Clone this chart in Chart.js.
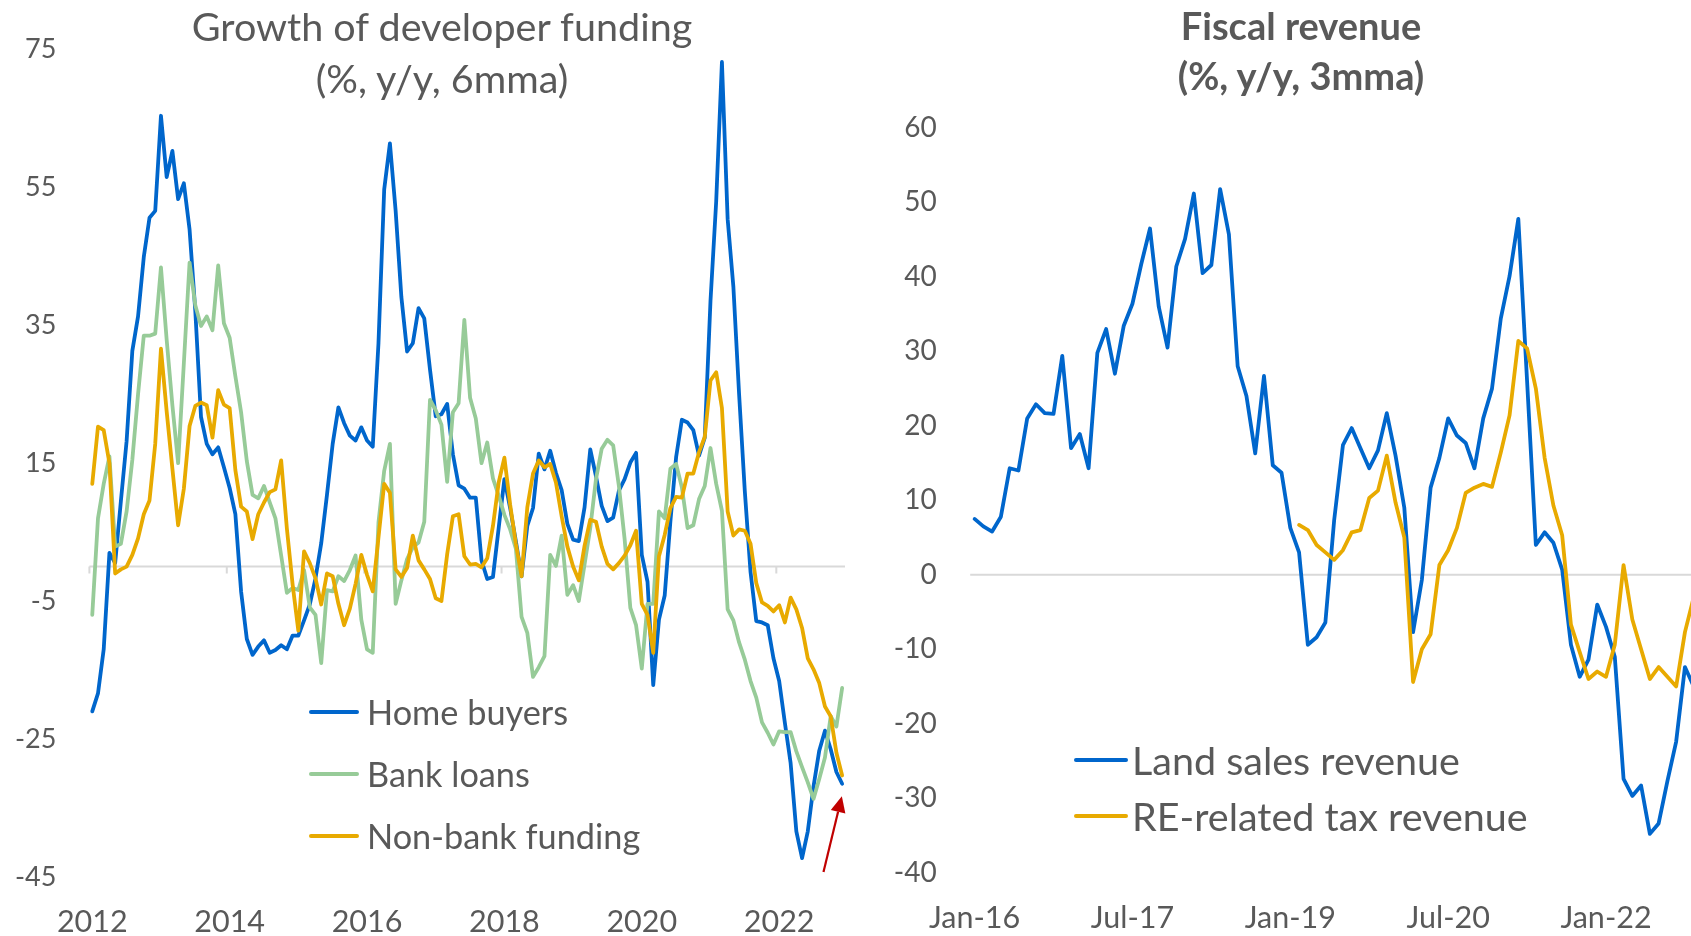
<!DOCTYPE html>
<html><head><meta charset="utf-8">
<script src="https://cdn.jsdelivr.net/npm/chart.js@4.4.1/dist/chart.umd.min.js"></script>
<style>
html,body{margin:0;padding:0;background:#fff;overflow:hidden;width:1691px;height:936px;}
#wrap{position:relative;width:1691px;height:936px;overflow:hidden;background:#fff;}
canvas{position:absolute;top:0;}
.txt{position:absolute;color:#595959;font-family:Lato,'Open Sans',sans-serif;white-space:nowrap;}
.sw{position:absolute;height:4px;border-radius:2px;}
</style></head><body>
<div id="wrap">
<canvas id="left" width="860" height="936" style="left:0"></canvas>
<canvas id="right" width="850" height="936" style="left:860px"></canvas>

<div class="txt" style="left:142px;width:600px;top:0px;font-size:39.5px;line-height:52px;text-align:center;">Growth of developer funding<br>(%, y/y, 6mma)</div>
<div class="txt" style="left:1001px;width:600px;top:0px;font-size:38px;line-height:50px;text-align:center;font-weight:bold;">Fiscal revenue<br>(%, y/y, 3mma)</div>

<div class="sw" style="left:309px;top:710px;width:50px;background:#0066CC"></div>
<div class="txt" style="left:367px;top:692px;font-size:34.3px;line-height:40px;">Home buyers</div>
<div class="sw" style="left:309px;top:772px;width:50px;background:#97CB98"></div>
<div class="txt" style="left:367px;top:754px;font-size:34.3px;line-height:40px;">Bank loans</div>
<div class="sw" style="left:309px;top:834px;width:50px;background:#E8AA00"></div>
<div class="txt" style="left:367px;top:816px;font-size:34.3px;line-height:40px;">Non-bank funding</div>

<div class="sw" style="left:1074px;top:758px;width:54px;background:#0066CC"></div>
<div class="txt" style="left:1132px;top:740px;font-size:39.5px;line-height:40px;">Land sales revenue</div>
<div class="sw" style="left:1074px;top:814px;width:54px;background:#E8AA00"></div>
<div class="txt" style="left:1132px;top:796px;font-size:39.5px;line-height:40px;">RE-related tax revenue</div>
</div>
<script>
// ---------- Left panel data (monthly, Jan-2012 .. Dec-2022) ----------
const homeBuyers = [
-21,-18.4,-12,2,0.5,9.5,18.2,31.3,36.3,44.9,50.6,51.6,
65.4,56.5,60.3,53.3,55.6,48.9,37.1,21.7,17.8,16.3,17.3,14.4,
11.4,7.6,-3.6,-10.5,-12.8,-11.6,-10.7,-12.5,-12.1,-11.4,-12,-10,
-10,-7.8,-5.5,-1.7,3.4,10.4,17.8,23.1,20.8,19,18.3,20.2,
18.3,17.4,32.4,54.7,61.4,51.6,39.1,31.2,32.4,37.5,36,28.6,
21.8,22.1,23.6,16.3,11.8,11.3,10,10,0.9,-1.8,-1.5,5.6,
12.7,8.5,3.7,-1.4,5.9,8.5,16.4,14.1,16.8,13.6,11.1,6.2,
3.9,3.7,8.6,17,13.1,8.8,6.6,7.1,11,12.7,15.1,16.5,
1.7,-2.2,-17.2,-7.7,-4.2,6.6,15.9,21.3,20.9,19.8,16.1,18.7,
38.5,53,73.2,50.4,40.6,25,10.9,-0.8,-7.9,-8.1,-8.5,-13.3,
-16.6,-22.7,-28.5,-38.4,-42.3,-38.4,-31.9,-26.7,-23.8,-26.5,-29.8,-31.5];
const bankLoans = [
-7,7,12,16,2.9,3.3,8,15.5,25,33.5,33.5,33.8,
43.4,32.9,23.4,15,29.5,44.1,37.9,34.9,36.3,34.3,43.7,35.3,
33.2,27.6,22.4,15.3,10.4,9.9,11.7,9.3,7,1.6,-3.8,-3.1,
-3.4,-0.5,-5.9,-7,-14,-3.4,-3.6,-1.4,-2.1,-0.5,1.6,-7.7,
-12,-12.5,6.4,13.9,17.8,-5.4,-2,1.1,2.8,3.5,6.5,24.2,
22.7,20.6,12.3,22.4,23.7,35.8,24.5,21.5,15,18,12.8,10.3,
7.5,5.4,2.6,-7.3,-9.6,-16,-14.6,-13,1.7,0.1,4.5,-4.1,
-2.7,-5,0.3,5.6,12.7,17.1,18.4,17.6,11.7,4,-6,-8.5,
-14.8,-5.4,-5.4,8,7,14.2,14.9,11.5,5.6,6,9.8,11.7,
17.2,12,8.1,-6.2,-7.8,-11,-13.5,-16.6,-19,-22.6,-24.1,-25.8,
-23.9,-24,-24,-26.8,-29.1,-31.3,-33.7,-30.8,-27.7,-21.7,-23.2,-17.6];
const nonBank = [
12,20.3,19.8,15,-1,-0.4,0,1.7,4.1,7.6,9.6,17.8,
31.6,22.5,14.2,6,11.3,20.4,23.3,23.8,23.4,18.7,25.6,23.5,
23,14,8.7,8,4,7.6,9.3,10.8,11.2,15.4,5.5,-2.6,
-9.3,2.2,0.5,-1.7,-5.5,-1,-1.4,-5.4,-8.5,-6.1,-2.5,1.7,
-1.2,-3.6,4.2,12,10.7,-0.4,-1.5,-0.2,4.5,0.9,-0.4,-1.8,
-4.6,-5,1.8,7.3,7.6,1.5,0.3,0.4,-0.1,1.2,5.9,12.2,
15.8,9,3.3,-1.4,8.6,13.5,15.4,14.4,14.9,12.2,7.3,2.9,
0,-2,3,6.8,6.5,2.9,0.4,-0.4,0.5,1.6,3.1,5.2,
-5.4,-7,-12.5,1.5,4.6,8.5,10.1,10,13.5,13.5,16.6,18.8,
27,28.2,23,8,4.5,5.4,5.2,3.3,-2.4,-5.2,-5.7,-6.5,
-5.6,-8.1,-4.5,-6.2,-8.9,-13.3,-14.9,-16.9,-20.3,-21.7,-27,-30.3];
const leftStartYear = 2012;
const leftTickLabels = ['2012','2014','2016','2018','2020','2022'];
const leftYTicks = [75,55,35,15,-5,-25,-45];
const arrowFrom = [127.74, -44.3];   // [month index, value]
const arrowTo   = [130.95, -33.3];

// ---------- Right panel data (monthly, Jan-16 .. Nov-22) ----------
const landSales = [
7.5,6.5,5.8,7.8,14.3,14,21,22.9,21.7,21.6,29.4,17,
18.9,14.3,29.8,33,27,33.4,36.4,41.7,46.5,36,30.5,41.4,
45.1,51.2,40.5,41.6,51.8,45.7,28,24,16.3,26.7,14.7,13.7,
6.3,3,-9.4,-8.4,-6.4,7.3,17.4,19.7,17,14.3,16.7,21.7,
16,9,-7.7,-0.7,11.7,15.7,21,18.7,17.7,14.3,21,25,
34.4,40.1,47.8,26,4,5.7,4.3,0.7,-9.4,-13.7,-11.4,-4,
-7,-11,-27.4,-29.7,-28.3,-34.8,-33.4,-27.7,-22.4,-12.4,-15];
const reTax = [
null,null,null,null,null,null,null,null,null,null,null,null,
null,null,null,null,null,null,null,null,null,null,null,null,
null,null,null,null,null,null,null,null,null,null,null,null,
null,6.7,6,4,3,2,3.3,5.7,6,10.3,11.3,16,
9.7,5,-14.4,-10,-8,1.3,3.3,6.3,11,11.7,12.2,11.8,
16.4,21.4,31.4,30.4,25,15.7,9.3,5.3,-6.7,-10.4,-14,-13,
-13.7,-9.4,1.3,-6,-10,-14,-12.4,-13.7,-15,-7.7,-3];
const rightStartYear = 2016;
const monthNames = ['Jan','Feb','Mar','Apr','May','Jun','Jul','Aug','Sep','Oct','Nov','Dec'];
const rightTickLabels = ['Jan-16','Jul-17','Jan-19','Jul-20','Jan-22'];

// ---------- categories ----------
const leftMonths = homeBuyers.map((_, k) => (leftStartYear + Math.floor(k/12)) + '-' + monthNames[k%12]);
const rightMonths = landSales.map((_, k) => monthNames[k%12] + '-' + String((rightStartYear + Math.floor(k/12)) % 100).padStart(2,'0'));

const BLUE = '#0066CC', GREEN = '#97CB98', GOLD = '#E8AA00', TEXT = '#595959';
Chart.defaults.font.family = 'Lato, "Open Sans", sans-serif';
Chart.defaults.color = TEXT;

const zeroLine = {
  id: 'zeroLine',
  beforeDatasetsDraw(c, args, opts) {
    const {ctx, chartArea: a, scales: {x, y}} = c;
    const py = y.getPixelForValue(0);
    ctx.save();
    ctx.strokeStyle = '#D9D9D9';
    ctx.lineWidth = 2;
    ctx.beginPath();
    ctx.moveTo(a.left, py); ctx.lineTo(a.right, py);
    if (opts.every) {
      const slot = (a.right - a.left) / x.ticks.length;
      for (let k = 0; k < x.ticks.length; k += opts.every) {
        const px = a.left + k * slot;
        ctx.moveTo(px, py); ctx.lineTo(px, py + 7);
      }
    }
    ctx.stroke();
    ctx.restore();
  }
};

const arrow = {
  id: 'arrow',
  afterDatasetsDraw(c) {
    const {ctx, scales: {x, y}} = c;
    const x0 = x.getPixelForValue(arrowFrom[0]), y0 = y.getPixelForValue(arrowFrom[1]);
    const x1 = x.getPixelForValue(arrowTo[0]), y1 = y.getPixelForValue(arrowTo[1]);
    const ang = Math.atan2(y1 - y0, x1 - x0);
    const hl = 16, hw = 7.5;
    const bx = x1 - hl * Math.cos(ang), by = y1 - hl * Math.sin(ang);
    ctx.save();
    ctx.strokeStyle = '#C00000'; ctx.fillStyle = '#C00000'; ctx.lineWidth = 2.2;
    ctx.beginPath(); ctx.moveTo(x0, y0); ctx.lineTo(bx, by); ctx.stroke();
    ctx.beginPath();
    ctx.moveTo(x1, y1);
    ctx.lineTo(bx + hw * Math.sin(ang), by - hw * Math.cos(ang));
    ctx.lineTo(bx - hw * Math.sin(ang), by + hw * Math.cos(ang));
    ctx.closePath(); ctx.fill();
    ctx.restore();
  }
};

const lineStyle = {borderWidth: 3.8, tension: 0, borderJoinStyle: 'round', borderCapStyle: 'round', pointRadius: 0, fill: false};

new Chart(document.getElementById('left'), {
  type: 'line',
  data: {
    labels: leftMonths,
    datasets: [
      Object.assign({label: 'Home buyers', data: homeBuyers, borderColor: BLUE, order: 3}, lineStyle),
      Object.assign({label: 'Bank loans', data: bankLoans, borderColor: GREEN, order: 2}, lineStyle),
      Object.assign({label: 'Non-bank funding', data: nonBank, borderColor: GOLD, order: 1}, lineStyle)
    ]
  },
  options: {
    responsive: false, animation: false, devicePixelRatio: 1,
    layout: {padding: {left: 0, right: 15, top: 49.6, bottom: 0}},
    plugins: {legend: {display: false}, title: {display: false}, tooltip: {enabled: false}, zeroLine: {every: 24}},
    scales: {
      x: {
        type: 'category', offset: true,
        grid: {display: false}, border: {display: false},
        ticks: {
          autoSkip: false, maxRotation: 0, minRotation: 0, padding: 19, color: TEXT, font: {size: 30.5},
          callback: (v, i) => (i % 24 === 0 ? leftTickLabels[i / 24] : '')
        },
        afterFit: s => { s.height = 59.2; s.paddingLeft = 0; s.paddingRight = 0; }
      },
      y: {
        min: -45, max: 75,
        afterBuildTicks: s => { s.ticks = leftYTicks.map(v => ({value: v})); },
        ticks: {padding: 25, color: TEXT, font: {size: 27}},
        grid: {display: false}, border: {display: false},
        afterFit: s => { s.width = 89.4; }
      }
    }
  },
  plugins: [zeroLine, arrow]
});

new Chart(document.getElementById('right'), {
  type: 'line',
  data: {
    labels: rightMonths,
    datasets: [
      Object.assign({label: 'Land sales revenue', data: landSales, borderColor: BLUE, order: 2}, lineStyle),
      Object.assign({label: 'RE-related tax revenue', data: reTax, borderColor: GOLD, order: 1}, lineStyle)
    ]
  },
  options: {
    responsive: false, animation: false, devicePixelRatio: 1,
    layout: {padding: {left: 0, right: 11.9, top: 128, bottom: 0}},
    plugins: {legend: {display: false}, title: {display: false}, tooltip: {enabled: false}, zeroLine: {every: 0}},
    scales: {
      x: {
        type: 'category', offset: true,
        grid: {display: false}, border: {display: false},
        ticks: {
          autoSkip: false, maxRotation: 0, minRotation: 0, padding: 19, color: TEXT, font: {size: 30.5},
          callback: (v, i) => (i % 18 === 0 ? rightTickLabels[i / 18] : '')
        },
        afterFit: s => { s.height = 63.4; s.paddingLeft = 0; s.paddingRight = 0; }
      },
      y: {
        min: -40, max: 60,
        ticks: {stepSize: 10, padding: 25.5, color: TEXT, font: {size: 28}},
        grid: {display: false}, border: {display: false},
        afterFit: s => { s.width = 110.2; }
      }
    }
  },
  plugins: [zeroLine]
});
</script>
</body></html>
